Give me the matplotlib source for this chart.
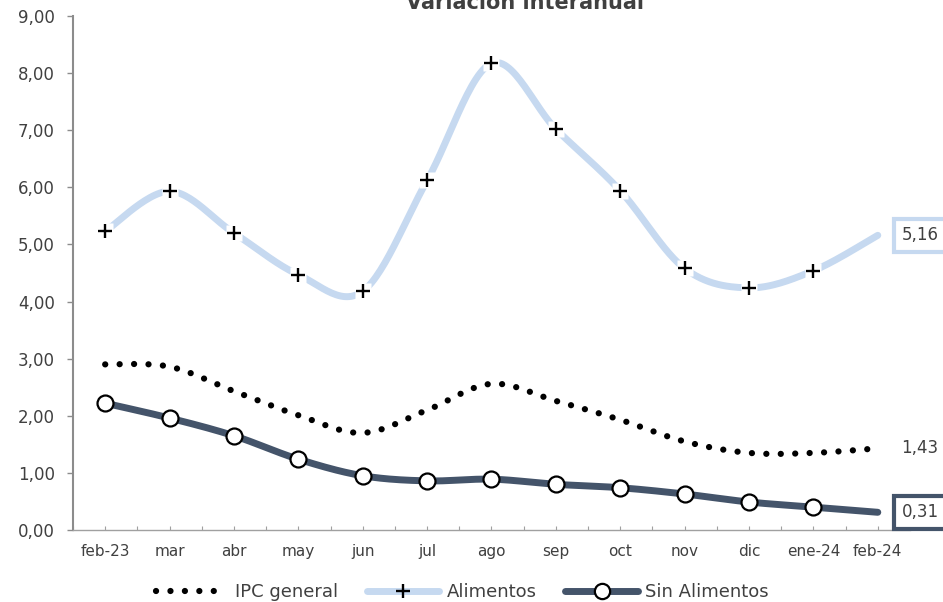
import numpy as np
import matplotlib.pyplot as plt
from matplotlib.lines import Line2D
from matplotlib.ticker import FuncFormatter, MultipleLocator

meses = ["feb-23", "mar", "abr", "may", "jun", "jul", "ago", "sep",
         "oct", "nov", "dic", "ene-24", "feb-24"]
ipc_general = [2.90, 2.86, 2.43, 2.01, 1.70, 2.10, 2.56, 2.26, 1.93, 1.55, 1.35, 1.35, 1.43]
alimentos = [5.23, 5.93, 5.20, 4.47, 4.18, 6.12, 8.17, 7.02, 5.94, 4.58, 4.24, 4.54, 5.16]
sin_alimentos = [2.22, 1.96, 1.65, 1.24, 0.95, 0.86, 0.89, 0.80, 0.74, 0.63, 0.49, 0.40, 0.31]

AZUL_CLARO = "#C6D9F0"
AZUL_OSC = "#44546A"
GRIS = "#404040"

plt.rcParams["font.family"] = ["DejaVu Sans"]


# curva suavizada tipo Excel (Bezier con tangentes Catmull-Rom)
def suavizar(x, y, pasos=30):
    x = np.asarray(x, float)
    y = np.asarray(y, float)
    n = len(x)
    xs, ys = [], []
    for i in range(n - 1):
        p0 = np.array([x[max(i - 1, 0)], y[max(i - 1, 0)]])
        p1 = np.array([x[i], y[i]])
        p2 = np.array([x[i + 1], y[i + 1]])
        p3 = np.array([x[min(i + 2, n - 1)], y[min(i + 2, n - 1)]])
        c1 = p1 + (p2 - p0) / 6
        c2 = p2 - (p3 - p1) / 6
        t = np.linspace(0, 1, pasos)[:, None]
        pts = ((1 - t) ** 3) * p1 + 3 * ((1 - t) ** 2) * t * c1 + 3 * (1 - t) * t ** 2 * c2 + t ** 3 * p2
        xs.extend(pts[:, 0])
        ys.extend(pts[:, 1])
    return np.array(xs), np.array(ys)


fig = plt.figure(figsize=(9.43, 6.02), dpi=100)
ax = fig.add_axes([0.0774, 0.1196, 0.8876, 0.8538])
x = np.arange(len(meses))

# IPC general (punteado)
sx, sy = suavizar(x, ipc_general)
ax.plot(sx, sy, color="black", lw=4.5, linestyle=(0, (0.01, 2.3)),
        dash_capstyle="round", zorder=3)

# Alimentos
sx, sy = suavizar(x, alimentos)
ax.plot(sx, sy, color=AZUL_CLARO, lw=5, solid_capstyle="round", zorder=2)
ax.plot(x[:-1], alimentos[:-1], linestyle="none", marker="s", ms=11,
        mfc="white", mec="none", zorder=4)
ax.plot(x[:-1], alimentos[:-1], linestyle="none", marker="+", ms=10,
        mew=1.7, color="black", zorder=5)

# Sin alimentos
sx, sy = suavizar(x, sin_alimentos)
ax.plot(sx, sy, color=AZUL_OSC, lw=5, solid_capstyle="round", zorder=2)
ax.plot(x[:-1], sin_alimentos[:-1], linestyle="none", marker="o", ms=11.5,
        mfc="white", mec="black", mew=1.6, zorder=5)

# etiquetas del ultimo dato
fmt = lambda v: f"{v:.2f}".replace(".", ",")
ax.annotate(fmt(alimentos[-1]), (x[-1], alimentos[-1]), xytext=(17, 0),
            textcoords="offset points", va="center", ha="left", fontsize=12,
            color=GRIS, annotation_clip=False,
            bbox=dict(boxstyle="square,pad=0.45", fc="white", ec=AZUL_CLARO, lw=3))
ax.annotate(fmt(ipc_general[-1]), (x[-1], ipc_general[-1]), xytext=(17, 0),
            textcoords="offset points", va="center", ha="left", fontsize=12,
            color=GRIS, annotation_clip=False)
ax.annotate(fmt(sin_alimentos[-1]), (x[-1], sin_alimentos[-1]), xytext=(17, 0),
            textcoords="offset points", va="center", ha="left", fontsize=12,
            color=GRIS, annotation_clip=False,
            bbox=dict(boxstyle="square,pad=0.45", fc="white", ec=AZUL_OSC, lw=3))

ax.set_xlim(-0.5, len(meses) - 0.5)
ax.set_ylim(0, 9)
ax.yaxis.set_major_locator(MultipleLocator(1))
ax.yaxis.set_major_formatter(FuncFormatter(lambda v, p: fmt(v)))
ax.set_xticks(x)
ax.set_xticklabels(meses)
ax.set_xticks(np.arange(-0.5, len(meses), 1), minor=True)

for s in ["top", "right"]:
    ax.spines[s].set_visible(False)
ax.spines["left"].set_color("#8C8C8C")
ax.spines["left"].set_linewidth(1.5)
ax.spines["bottom"].set_color("#A0A0A0")
ax.spines["bottom"].set_linestyle((0, (1.5, 1)))
ax.spines["bottom"].set_linewidth(1)

ax.tick_params(axis="y", length=4, width=1, color="#8C8C8C", labelsize=12,
               labelcolor=GRIS, pad=9)
ax.tick_params(axis="x", which="both", direction="in", length=3, width=0.8,
               color="#A0A0A0", labelsize=11, labelcolor=GRIS, pad=10)

fig.text(0.557, 1 - 9 / 602, "Variación interanual", ha="center", va="baseline",
         fontsize=15, fontweight="bold", color=GRIS)

# leyenda
handles = [
    Line2D([], [], color="black", lw=4.5, linestyle=(0, (0.01, 2.3)), dash_capstyle="round"),
    (Line2D([], [], color=AZUL_CLARO, lw=5, solid_capstyle="round"),
     Line2D([], [], linestyle="none", marker="+", ms=10, mew=1.7, color="black")),
    (Line2D([], [], color=AZUL_OSC, lw=5, solid_capstyle="round"),
     Line2D([], [], linestyle="none", marker="o", ms=11, mfc="white", mec="black", mew=1.6)),
]
fig.legend(handles, ["IPC general", "Alimentos", "Sin Alimentos"], loc="center",
           bbox_to_anchor=(0.49, 1 - 592 / 602), ncol=3, frameon=False,
           fontsize=13, handlelength=4, columnspacing=1.6, handletextpad=0.4,
           labelcolor=GRIS)

fig.savefig("out.png", dpi=100)
